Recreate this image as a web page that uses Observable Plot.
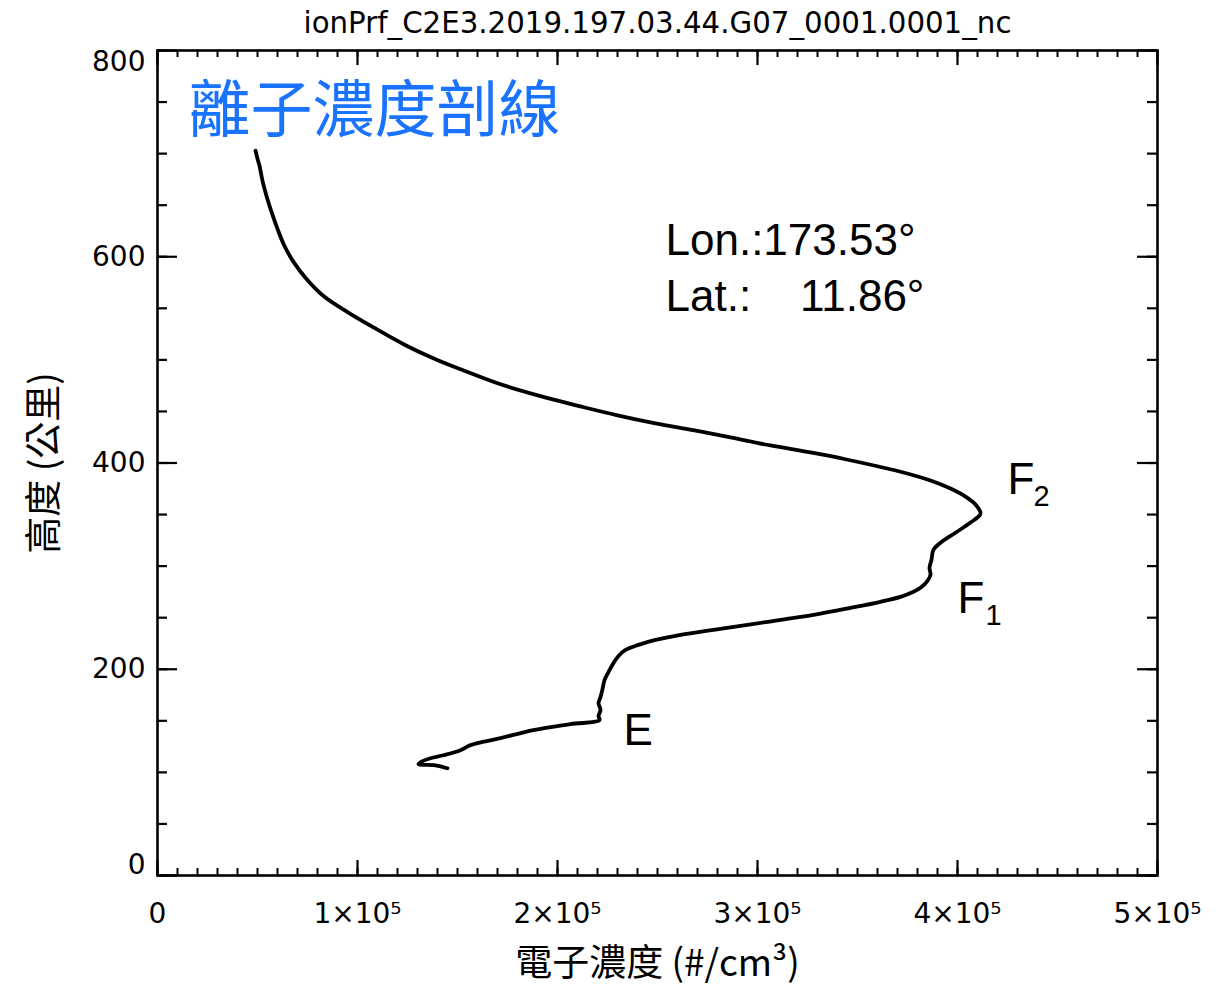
<!DOCTYPE html>
<html><head><meta charset="utf-8">
<script src="https://cdn.jsdelivr.net/npm/d3@7"></script>
<script src="https://cdn.jsdelivr.net/npm/@observablehq/plot@0.6"></script>
<style>body{margin:0;background:#fff}</style>
</head><body><div id="chart"></div>
<script>
// Electron density (#/cm^3) vs altitude (km)
const density = [49000,50000,51000,52500,54500,57000,60000,63500,68000,74500,
  83000,95000,109500,124000,139000,154000,171500,192000,211500,230000,
  249000,268500,286500,306500,326500,344500,360500,373000,386500,396500,
  404000,409000,411500,406500,399000,391500,388000,387000,386000,386500,
  385000,381500,378000,371500,361500,346500,328000,311500,295000,278000,
  261500,249000,240500,234000,230500,228000,225500,223500,222500,221500,
  220500,221500,220500,221000,206500,188000,171500,156500,151500,143000,
  136500,131500,130500,139000,145000];
const altitude = [702.8,695,688.2,673.6,659,643.5,627,610.4,595,578.4,
  561.9,546.3,529.8,514.2,500.6,489,476.3,464.6,454.9,446.2,
  438.4,431.6,424.8,417,410.2,403.4,396.6,390.8,383,375.2,
  367.4,359.7,350.9,342.2,332.4,322.7,315.9,306.2,298.4,291.6,
  285.8,279,275.1,270.2,265.4,259.5,252.7,247.9,243,238.2,
  233.3,228.4,223.6,218.7,212.9,206.1,197.3,189.5,180.8,173,
  167.2,160.4,154.6,150.7,146.8,141,133.2,126.4,121.5,116.6,
  113.7,109.8,107.9,106.9,104];

const xMajorTicks = [0,100000,200000,300000,400000,500000];
const xTickLabels = ["0","1×10⁵","2×10⁵","3×10⁵","4×10⁵","5×10⁵"];
const xMinorTicks = d3.range(0,500001,10000);
const yMajorTicks = [0,200,400,600,800];
const yMinorTicks = d3.range(0,801,50);

const chartTitle = "ionPrf_C2E3.2019.197.03.44.G07_0001.0001_nc";
const headline = "離子濃度剖線";
const xLabel = "電子濃度 (#/cm³)";
const yLabel = "高度 (公里)";
const lonText = "Lon.:173.53°";
const latText = "Lat.:\u00a0\u00a0\u00a0\u00a011.86°";
const layerLabels = [
  {name:"F", sub:"2", x:425000, y:384, sx:438000, sy:367},
  {name:"F", sub:"1", x:400000, y:268, sx:414000, sy:252},
  {name:"E", sub:"",  x:233000, y:140, sx:233000, sy:140}
];
const annot = [
  {t:headline, x:15500, y:740},
  {t:lonText, x:254000, y:615},
  {t:latText, x:254000, y:561}
];

const profile = density.map((d,i)=>({n:d, h:altitude[i]}));
const FW = 1000, FH = 825;
const labelMap = new Map(xMajorTicks.map((d,i)=>[d,xTickLabels[i]]));
const tickFont = "DejaVu Sans";

const chart = Plot.plot({
  width:1225, height:988,
  marginLeft:157, marginRight:68, marginTop:50, marginBottom:113,
  x:{domain:[0,500000]},
  y:{domain:[0,800]},
  style:{fontFamily:tickFont, background:"#fff", color:"#000"},
  marks:[
    // inward ticks: bottom / top
    Plot.tickX(xMinorTicks,{x:d=>d, insetTop:FH-7, stroke:"#000", strokeWidth:2}),
    Plot.tickX(xMajorTicks,{x:d=>d, insetTop:FH-15, stroke:"#000", strokeWidth:2.2}),
    Plot.tickX(xMinorTicks,{x:d=>d, insetBottom:FH-7, stroke:"#000", strokeWidth:2}),
    Plot.tickX(xMajorTicks,{x:d=>d, insetBottom:FH-15, stroke:"#000", strokeWidth:2.2}),
    // inward ticks: left / right
    Plot.tickY(yMinorTicks,{y:d=>d, insetRight:FW-10, stroke:"#000", strokeWidth:2.2}),
    Plot.tickY(yMajorTicks,{y:d=>d, insetRight:FW-20, stroke:"#000", strokeWidth:2.2}),
    Plot.tickY(yMinorTicks,{y:d=>d, insetLeft:FW-10, stroke:"#000", strokeWidth:2.2}),
    Plot.tickY(yMajorTicks,{y:d=>d, insetLeft:FW-20, stroke:"#000", strokeWidth:2.2}),
    Plot.frame({stroke:"#000", strokeWidth:2.6}),
    // axes labels
    Plot.axisX(xMajorTicks,{tickSize:0, tickPadding:28, tickFormat:d=>labelMap.get(d), fontSize:28, label:null}),
    Plot.axisY([200,400,600],{tickSize:0, tickPadding:12, fontSize:28, label:null}),
    Plot.axisY([800],{tickSize:0, tickPadding:12, fontSize:28, label:null, dy:12}),
    Plot.axisY([0],{tickSize:0, tickPadding:12, fontSize:28, label:null, dy:-10}),
    Plot.text([chartTitle],{frameAnchor:"top", dy:-27, lineAnchor:"middle", textAnchor:"middle", fontSize:31, fontFamily:"DejaVu Sans", fill:"#000", className:"ttl"}),
    Plot.text([xLabel],{frameAnchor:"bottom", dy:89, lineAnchor:"middle", textAnchor:"middle", fontSize:37, fontFamily:"Noto Sans CJK TC", fill:"#000"}),
    Plot.text([yLabel],{frameAnchor:"left", dx:-112, rotate:-90, lineAnchor:"middle", textAnchor:"middle", fontSize:37, fontFamily:"Noto Sans CJK TC", fill:"#000"}),
    // profile
    Plot.line(profile,{x:"n", y:"h", curve:"catmull-rom", stroke:"#000", strokeWidth:3.8, strokeLinejoin:"round", strokeLinecap:"round"}),
    // annotations
    Plot.text(annot.slice(0,1),{x:"x", y:"y", text:"t", textAnchor:"start", fontSize:62, fontFamily:"Noto Sans CJK TC", fill:"#1a73ff"}),
    Plot.text(annot.slice(1),{x:"x", y:"y", text:"t", textAnchor:"start", fontSize:44, fontFamily:"Liberation Sans", fill:"#000"}),
    Plot.text(layerLabels,{x:"x", y:"y", text:"name", textAnchor:"start", fontSize:44, fontFamily:"Liberation Sans", fill:"#000"}),
    Plot.text(layerLabels,{x:"sx", y:"sy", text:"sub", textAnchor:"start", fontSize:29, fontFamily:"Liberation Sans", fill:"#000"})
  ]
});
d3.select(chart).selectAll(".ttl text").attr("textLength", 708).attr("lengthAdjust", "spacingAndGlyphs");
document.getElementById("chart").appendChild(chart);
</script>
</body></html>
